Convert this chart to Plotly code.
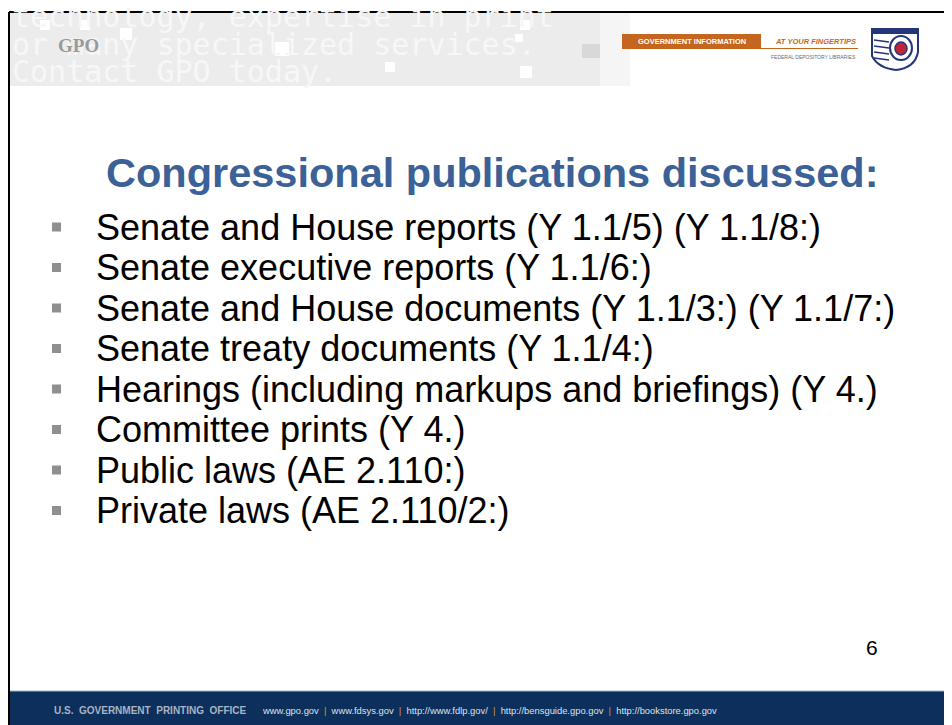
import plotly.graph_objects as go

# The page body has an 8px margin, so the figure is 944x717 and mapped so that
# data coordinates equal window pixel coordinates.
X0, Y0, W, H = 8, 8, 952, 725

title_text = "Congressional publications discussed:"
bullet_items = [
    "Senate and House reports (Y 1.1/5) (Y 1.1/8:)",
    "Senate executive reports (Y 1.1/6:)",
    "Senate and House documents (Y 1.1/3:) (Y 1.1/7:)",
    "Senate treaty documents (Y 1.1/4:)",
    "Hearings (including markups and briefings) (Y 4.)",
    "Committee prints (Y 4.)",
    "Public laws (AE 2.110:)",
    "Private laws (AE 2.110/2:)",
]
bullet_rows = [227, 267.5, 308, 348.5, 389, 429.5, 470, 510.5]
page_number = "6"
footer_org = "U.S.  GOVERNMENT  PRINTING  OFFICE"
footer_links = ["www.gpo.gov", "www.fdsys.gov", "http://www.fdlp.gov/",
                "http://bensguide.gpo.gov", "http://bookstore.gpo.gov"]
watermark_lines = ["technology, expertise in print", "or many specialized services.", "Contact GPO today."]
watermark_rows = [16, 44, 71]

fig = go.Figure()

# bullet markers
fig.add_trace(go.Scatter(
    x=[56.5] * len(bullet_rows), y=bullet_rows, mode="markers",
    marker=dict(symbol="square", size=9, color="#8f8f8f", line=dict(width=0)),
    hoverinfo="skip", showlegend=False))

shapes = []
# header gray band
shapes.append(dict(type="rect", x0=9, x1=600, y0=12, y1=86, fillcolor="#ececec", line=dict(width=0), layer="below"))
shapes.append(dict(type="rect", x0=600, x1=630, y0=12, y1=86, fillcolor="#f5f5f5", line=dict(width=0), layer="below"))
# decorative squares in watermark
for (sx, sy, ss) in [(40, 20, 10), (80, 20, 10), (120, 28, 12), (275, 42, 14), (385, 62, 10), (520, 20, 10), (515, 34, 8)]:
    shapes.append(dict(type="rect", x0=sx, x1=sx + ss, y0=sy, y1=sy + ss, fillcolor="#ffffff", line=dict(width=0), layer="below"))
shapes.append(dict(type="rect", x0=582, x1=600, y0=44, y1=58, fillcolor="#d8d8d8", line=dict(width=0), layer="below"))
shapes.append(dict(type="rect", x0=520, x1=532, y0=66, y1=78, fillcolor="#ffffff", line=dict(width=0), layer="below"))
# slide border lines
shapes.append(dict(type="line", x0=9, x1=952, y0=12, y1=12, line=dict(color="#000000", width=2)))
shapes.append(dict(type="line", x0=9, x1=9, y0=12, y1=725, line=dict(color="#000000", width=2)))
# footer
shapes.append(dict(type="rect", x0=10, x1=952, y0=691, y1=725, fillcolor="#0c2f5c", line=dict(width=0)))
shapes.append(dict(type="line", x0=10, x1=952, y0=691, y1=691, line=dict(color="#9fb4cc", width=1)))
# orange logo
shapes.append(dict(type="rect", x0=622, x1=761, y0=34, y1=48, fillcolor="#c4661f", line=dict(width=0)))
shapes.append(dict(type="line", x0=622, x1=858, y0=48.5, y1=48.5, line=dict(color="#c4661f", width=1)))
# FDLP eagle emblem (approximate)
shapes.append(dict(type="path",
                   path="M 872 29 L 918 29 L 918 52 Q 915 68 896 70 Q 878 68 872 56 Z",
                   fillcolor="#ffffff", line=dict(color="#24367a", width=2)))
shapes.append(dict(type="rect", x0=872, x1=918, y0=29, y1=34, fillcolor="#24367a", line=dict(width=0)))
shapes.append(dict(type="circle", x0=890, x1=912, y0=36, y1=60, fillcolor="#ffffff", line=dict(color="#24367a", width=2)))
shapes.append(dict(type="circle", x0=895, x1=907, y0=42, y1=55, fillcolor="#c0253a", line=dict(color="#24367a", width=1.5)))
for yy in [40, 46, 52, 58]:
    shapes.append(dict(type="line", x0=874, x1=889, y0=yy, y1=yy + 2, line=dict(color="#24367a", width=1.5)))

ann = []
# watermark text
for t, yy in zip(watermark_lines, watermark_rows):
    ann.append(dict(x=10, y=yy, text=t, showarrow=False, xanchor="left", yanchor="middle",
                    font=dict(family="DejaVu Sans Mono", size=30, color="#f7f7f7")))
# GPO logo
ann.append(dict(x=56, y=45, text="<b>GPO</b>", showarrow=False, xanchor="left", yanchor="middle",
                font=dict(family="Liberation Serif", size=19, color="#9a9a9a")))
# orange logo texts
ann.append(dict(x=691.5, y=41, text="<b>GOVERNMENT INFORMATION</b>", showarrow=False, xanchor="center", yanchor="middle",
                font=dict(family="Liberation Sans", size=7.5, color="#ffffff")))
ann.append(dict(x=858, y=41, text="<b><i>AT YOUR FINGERTIPS</i></b>", showarrow=False, xanchor="right", yanchor="middle",
                font=dict(family="Liberation Sans", size=7.5, color="#c4661f")))
ann.append(dict(x=858, y=57, text="FEDERAL DEPOSITORY LIBRARIES", showarrow=False, xanchor="right", yanchor="middle",
                font=dict(family="Liberation Sans", size=5, color="#6a6a6a")))
# title
ann.append(dict(x=492, y=172, text="<b>" + title_text + "</b>", showarrow=False, xanchor="center", yanchor="middle",
                font=dict(family="Liberation Sans", size=41.5, color="#3b6196")))
# bullets
for t, yy in zip(bullet_items, bullet_rows):
    ann.append(dict(x=94, y=yy, text=t, showarrow=False, xanchor="left", yanchor="middle",
                    font=dict(family="Liberation Sans", size=36, color="#000000")))
# page number
ann.append(dict(x=880, y=647, text=page_number, showarrow=False, xanchor="right", yanchor="middle",
                font=dict(family="Liberation Sans", size=21, color="#000000")))
# footer
ann.append(dict(x=52, y=710, text="<b>" + footer_org + "</b>", showarrow=False, xanchor="left", yanchor="middle",
                font=dict(family="Liberation Sans", size=10, color="#a9b4c4")))
sep = "  <span style='color:#d9a21a'>|</span>  "
ann.append(dict(x=260, y=710, text=sep.join(footer_links), showarrow=False, xanchor="left", yanchor="middle",
                font=dict(family="Liberation Sans", size=9.4, color="#dde3ec")))

fig.update_layout(
    width=W - X0, height=H - Y0, margin=dict(l=0, r=0, t=0, b=0),
    paper_bgcolor="#ffffff", plot_bgcolor="#ffffff",
    xaxis=dict(range=[X0, W], visible=False, fixedrange=True),
    yaxis=dict(range=[H, Y0], visible=False, fixedrange=True),
    shapes=shapes, annotations=ann, showlegend=False,
)
fig.write_html("out.html", config={"displayModeBar": False})
